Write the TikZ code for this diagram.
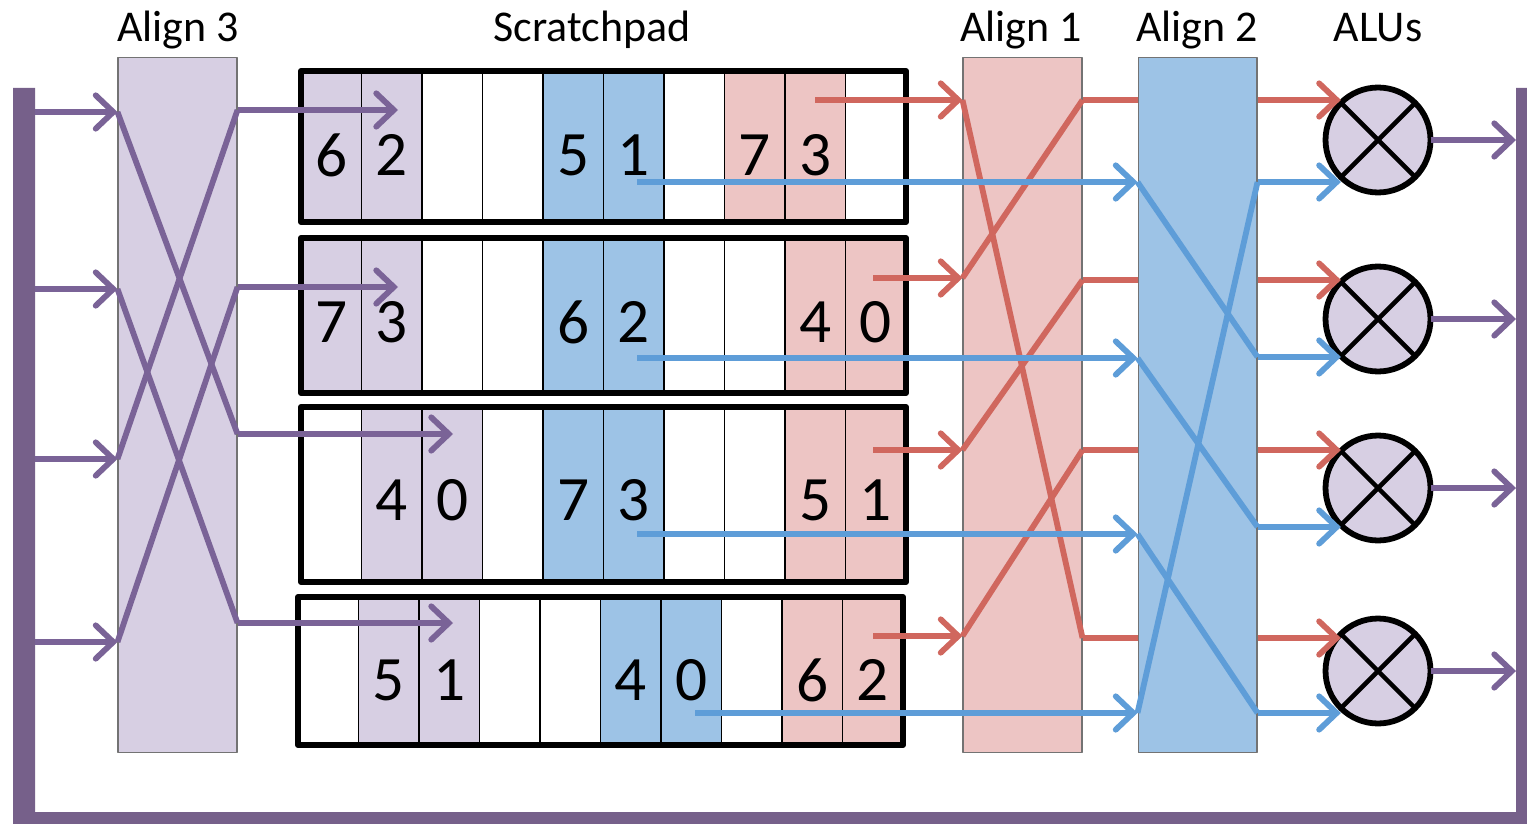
\documentclass[tikz,border=0pt]{standalone}
\usepackage{fontspec}
\setmainfont{Carlito}
\usetikzlibrary{arrows.meta}
\definecolor{framepurple}{HTML}{76608A}
\definecolor{wirepurple}{HTML}{7A6397}
\definecolor{wirered}{HTML}{D0675E}
\definecolor{wireblue}{HTML}{5E9DD8}
\definecolor{cellp}{HTML}{D7CFE3}
\definecolor{cellb}{HTML}{9DC3E6}
\definecolor{cellr}{HTML}{EDC5C4}
\colorlet{cellw}{white}

\begin{document}
\begin{tikzpicture}[x=0.02cm, y=-0.02cm, line join=round,
  title/.style={font=\fontsize{25}{30}\selectfont, anchor=base, inner sep=0pt},
  digit/.style={font=\fontsize{36}{40}\selectfont, inner sep=0pt},
  netbox/.style={draw=black!55, line width=0.6pt, minimum width=2.38cm, minimum height=13.92cm, inner sep=0pt},
  wire/.style={line width=3.3pt},
  feed/.style={wire, -{Straight Barb[length=10pt, width=19pt, line cap=round]}},
  alu/.style={circle, draw, line width=3.3pt, fill=cellp, minimum size=2.1cm, outer sep=0pt}]
\useasboundingbox (0,0) rectangle (1527,824);
\fill[framepurple] (13,88) rectangle (35,824) (13,812) rectangle (1527,824) (1516,88) rectangle (1527,824);
\node[title] (t3) at (178,42) {Align 3};
\node[title] (tsp) at (592,42) {Scratchpad};
\node[title] (t1) at (1021,42) {Align 1};
\node[title] (t2) at (1197,42) {Align 2};
\node[title] (talu) at (1378,42) {ALUs};
\node[netbox, fill=cellp] (al3) at (177.5,405) {};
\node[netbox, fill=cellr] (al1) at (1022.5,405) {};
\node[netbox, fill=cellb] (al2) at (1197.5,405) {};
% scratchpad rows
\foreach \row/\ya/\yb/\xl/\yd/\cells in {
  1/71/222/301/155/{p/6,p/2,w/,w/,b/5,b/1,w/,r/7,r/3,w/},
  2/238/393/301/322/{p/7,p/3,w/,w/,b/6,b/2,w/,w/,r/4,r/0},
  3/407/582/301/500/{w/,p/4,p/0,w/,b/7,b/3,w/,w/,r/5,r/1},
  4/597/745/298/680/{w/,p/5,p/1,w/,w/,b/4,b/0,w/,r/6,r/2}} {
  \foreach \c/\d [count=\i from 0] in \cells {
    \draw[fill=cell\c, line width=1.1pt] (\xl+\i*60.5,\ya) rectangle ++(60.5,\yb-\ya);
    \node[digit] (n\row\i) at (\xl+\i*60.5+30.25,\yd) {\d};
  }
  \draw[line width=3.4pt] (\xl,\ya) rectangle (\xl+605,\yb);
}
\foreach \k/\y in {1/140,2/319,3/488,4/671} \node[alu] (alu\k) at (1378,\y) {};
\foreach \k in {1,...,4}
  \draw[line width=2.6pt] (alu\k.north west) -- (alu\k.south east) (alu\k.north east) -- (alu\k.south west);
% ports
\foreach \k/\yi/\yo/\ys in {1/112/110/398, 2/289/287/398, 3/459/434/453, 4/642/623/453} {
  \coordinate (fl\k) at (35,\yi);
  \coordinate (a3i\k) at (al3.west |- 0,\yi);
  \coordinate (a3o\k) at (al3.east |- 0,\yo);
  \coordinate (sp\k) at (\ys,\yo);
}
\foreach \k/\xs/\yi/\yo in {1/815/100/100, 2/873/278/280, 3/873/450/450, 4/873/636/638} {
  \coordinate (rs\k) at (\xs,\yi);
  \coordinate (a1i\k) at (al1.west |- 0,\yi);
  \coordinate (a1o\k) at (al1.east |- 0,\yo);
  \coordinate (a2r\k) at (al2.west |- 0,\yo);
  \coordinate (a2s\k) at (al2.east |- 0,\yo);
}
\foreach \k/\xs/\yi/\yo in {1/637/182/182, 2/637/358/357, 3/637/534/527, 4/695/713/713} {
  \coordinate (bs\k) at (\xs,\yi);
  \coordinate (a2i\k) at (al2.west |- 0,\yi);
  \coordinate (a2o\k) at (al2.east |- 0,\yo);
}
% align 3
\foreach \k in {1,...,4} \draw[feed, wirepurple] (fl\k) -- (a3i\k);
\foreach \a/\b in {1/3,2/4,3/1,4/2} \draw[wire, wirepurple] (a3i\a) -- (a3o\b);
\foreach \k in {1,...,4} \draw[feed, wirepurple] (a3o\k) -- (sp\k);
% align 1
\foreach \k in {1,...,4} \draw[feed, wirered] (rs\k) -- (a1i\k);
\foreach \a/\b in {1/4,2/1,3/2,4/3} \draw[wire, wirered] (a1i\a) -- (a1o\b);
\foreach \k in {1,...,4} {
  \draw[wire, wirered] (a1o\k) -- (a2r\k);
  \draw[feed, wirered] (a2s\k) -- (alu\k.north west |- a2s\k);
}
% align 2
\foreach \k in {1,...,4} \draw[feed, wireblue] (bs\k) -- (a2i\k);
\foreach \a/\b in {1/2,2/3,3/4,4/1} \draw[wire, wireblue] (a2i\a) -- (a2o\b);
\foreach \k in {1,...,4} \draw[feed, wireblue] (a2o\k) -- (alu\k.south west |- a2o\k);
% results
\foreach \k in {1,...,4} \draw[feed, wirepurple] (alu\k.east) -- (1516,0 |- alu\k.east);
\end{tikzpicture}
\end{document}
